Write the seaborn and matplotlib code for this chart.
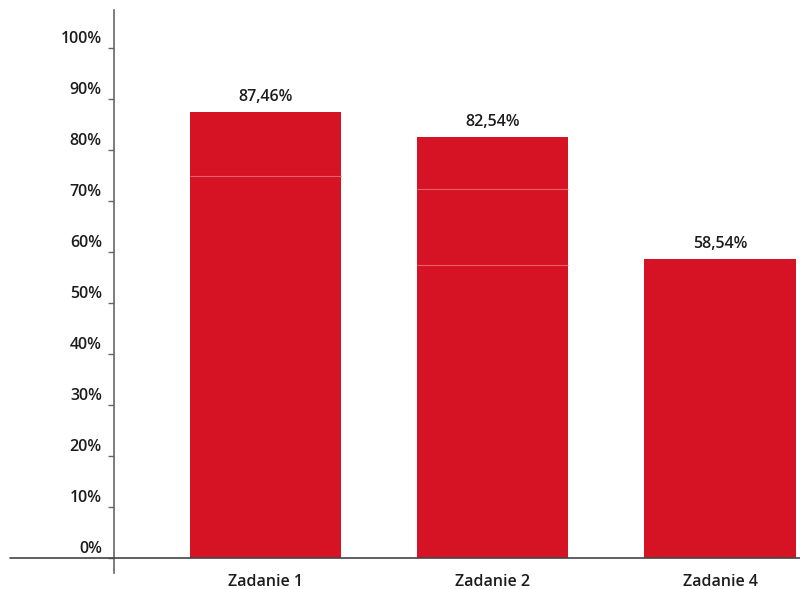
import matplotlib
matplotlib.use("Agg")
import matplotlib.pyplot as plt
import matplotlib.transforms as mtransforms
import seaborn as sns
import pandas as pd

zadania = ["Zadanie 1", "Zadanie 2", "Zadanie 4"]
wyniki = [87.46, 82.54, 58.54]
# faint segment boundaries visible inside the bars
granice = [[74.9], [57.45, 72.35], []]
y_ticks = [0, 10, 20, 30, 40, 50, 60, 70, 80, 90, 100]

RED = "#D51324"
AXIS_GRAY = "#666666"
BASE_GRAY = "#444444"
TEXT = "#1c1c1c"
FS = 11.5

sns.set_theme(style="white")
plt.rcParams["font.family"] = ["Open Sans", "DejaVu Sans"]

fig = plt.figure(figsize=(8, 5.89), dpi=100)
ax = fig.add_axes([114 / 800, 1 - 573 / 589, 686 / 800, 563 / 589])

df = pd.DataFrame({"zadanie": zadania, "wynik": wyniki})
sns.barplot(data=df, x="zadanie", y="wynik", color=RED, saturation=1,
            width=0.665, ax=ax, edgecolor="none")

ax.set_xlim(-0.667, 2.352)
ax.set_ylim(-2.94, 107.45)

# segment separators
for i, gs in enumerate(granice):
    for g in gs:
        ax.hlines(g, i - 0.3325, i + 0.3325, color="#E8606C", linewidth=0.8, zorder=3)

# value labels
for i, v in enumerate(wyniki):
    ax.annotate(f"{v:.2f}".replace(".", ",") + "%", (i, v), xytext=(0, 11),
                textcoords="offset points", ha="center", va="center",
                fontsize=FS, fontweight="semibold", color=TEXT)

# baseline extends left of the y axis
ax.axhline(0, xmin=(10 - 114) / 686, xmax=1, color=BASE_GRAY, linewidth=1.2,
           clip_on=False, zorder=4)

for s in ["top", "right", "bottom"]:
    ax.spines[s].set_visible(False)
ax.spines["left"].set_color(AXIS_GRAY)
ax.spines["left"].set_linewidth(1.2)

ax.set_yticks(y_ticks)
ax.set_yticklabels([f"{t}%" for t in y_ticks])
ax.tick_params(axis="y", left=True, length=4.3, width=1, color=AXIS_GRAY, pad=4.5,
               labelsize=FS, labelcolor=TEXT)
ax.tick_params(axis="x", bottom=False, length=0, pad=1, labelsize=FS, labelcolor=TEXT)
shift_up = mtransforms.ScaledTranslation(0, 11 / 100, fig.dpi_scale_trans)
for lab in ax.get_yticklabels():
    lab.set_fontweight("semibold")
    lab.set_transform(lab.get_transform() + shift_up)
for lab in ax.get_xticklabels():
    lab.set_fontweight("semibold")

ax.set_xlabel("")
ax.set_ylabel("")

fig.savefig("out.png", dpi=100)
